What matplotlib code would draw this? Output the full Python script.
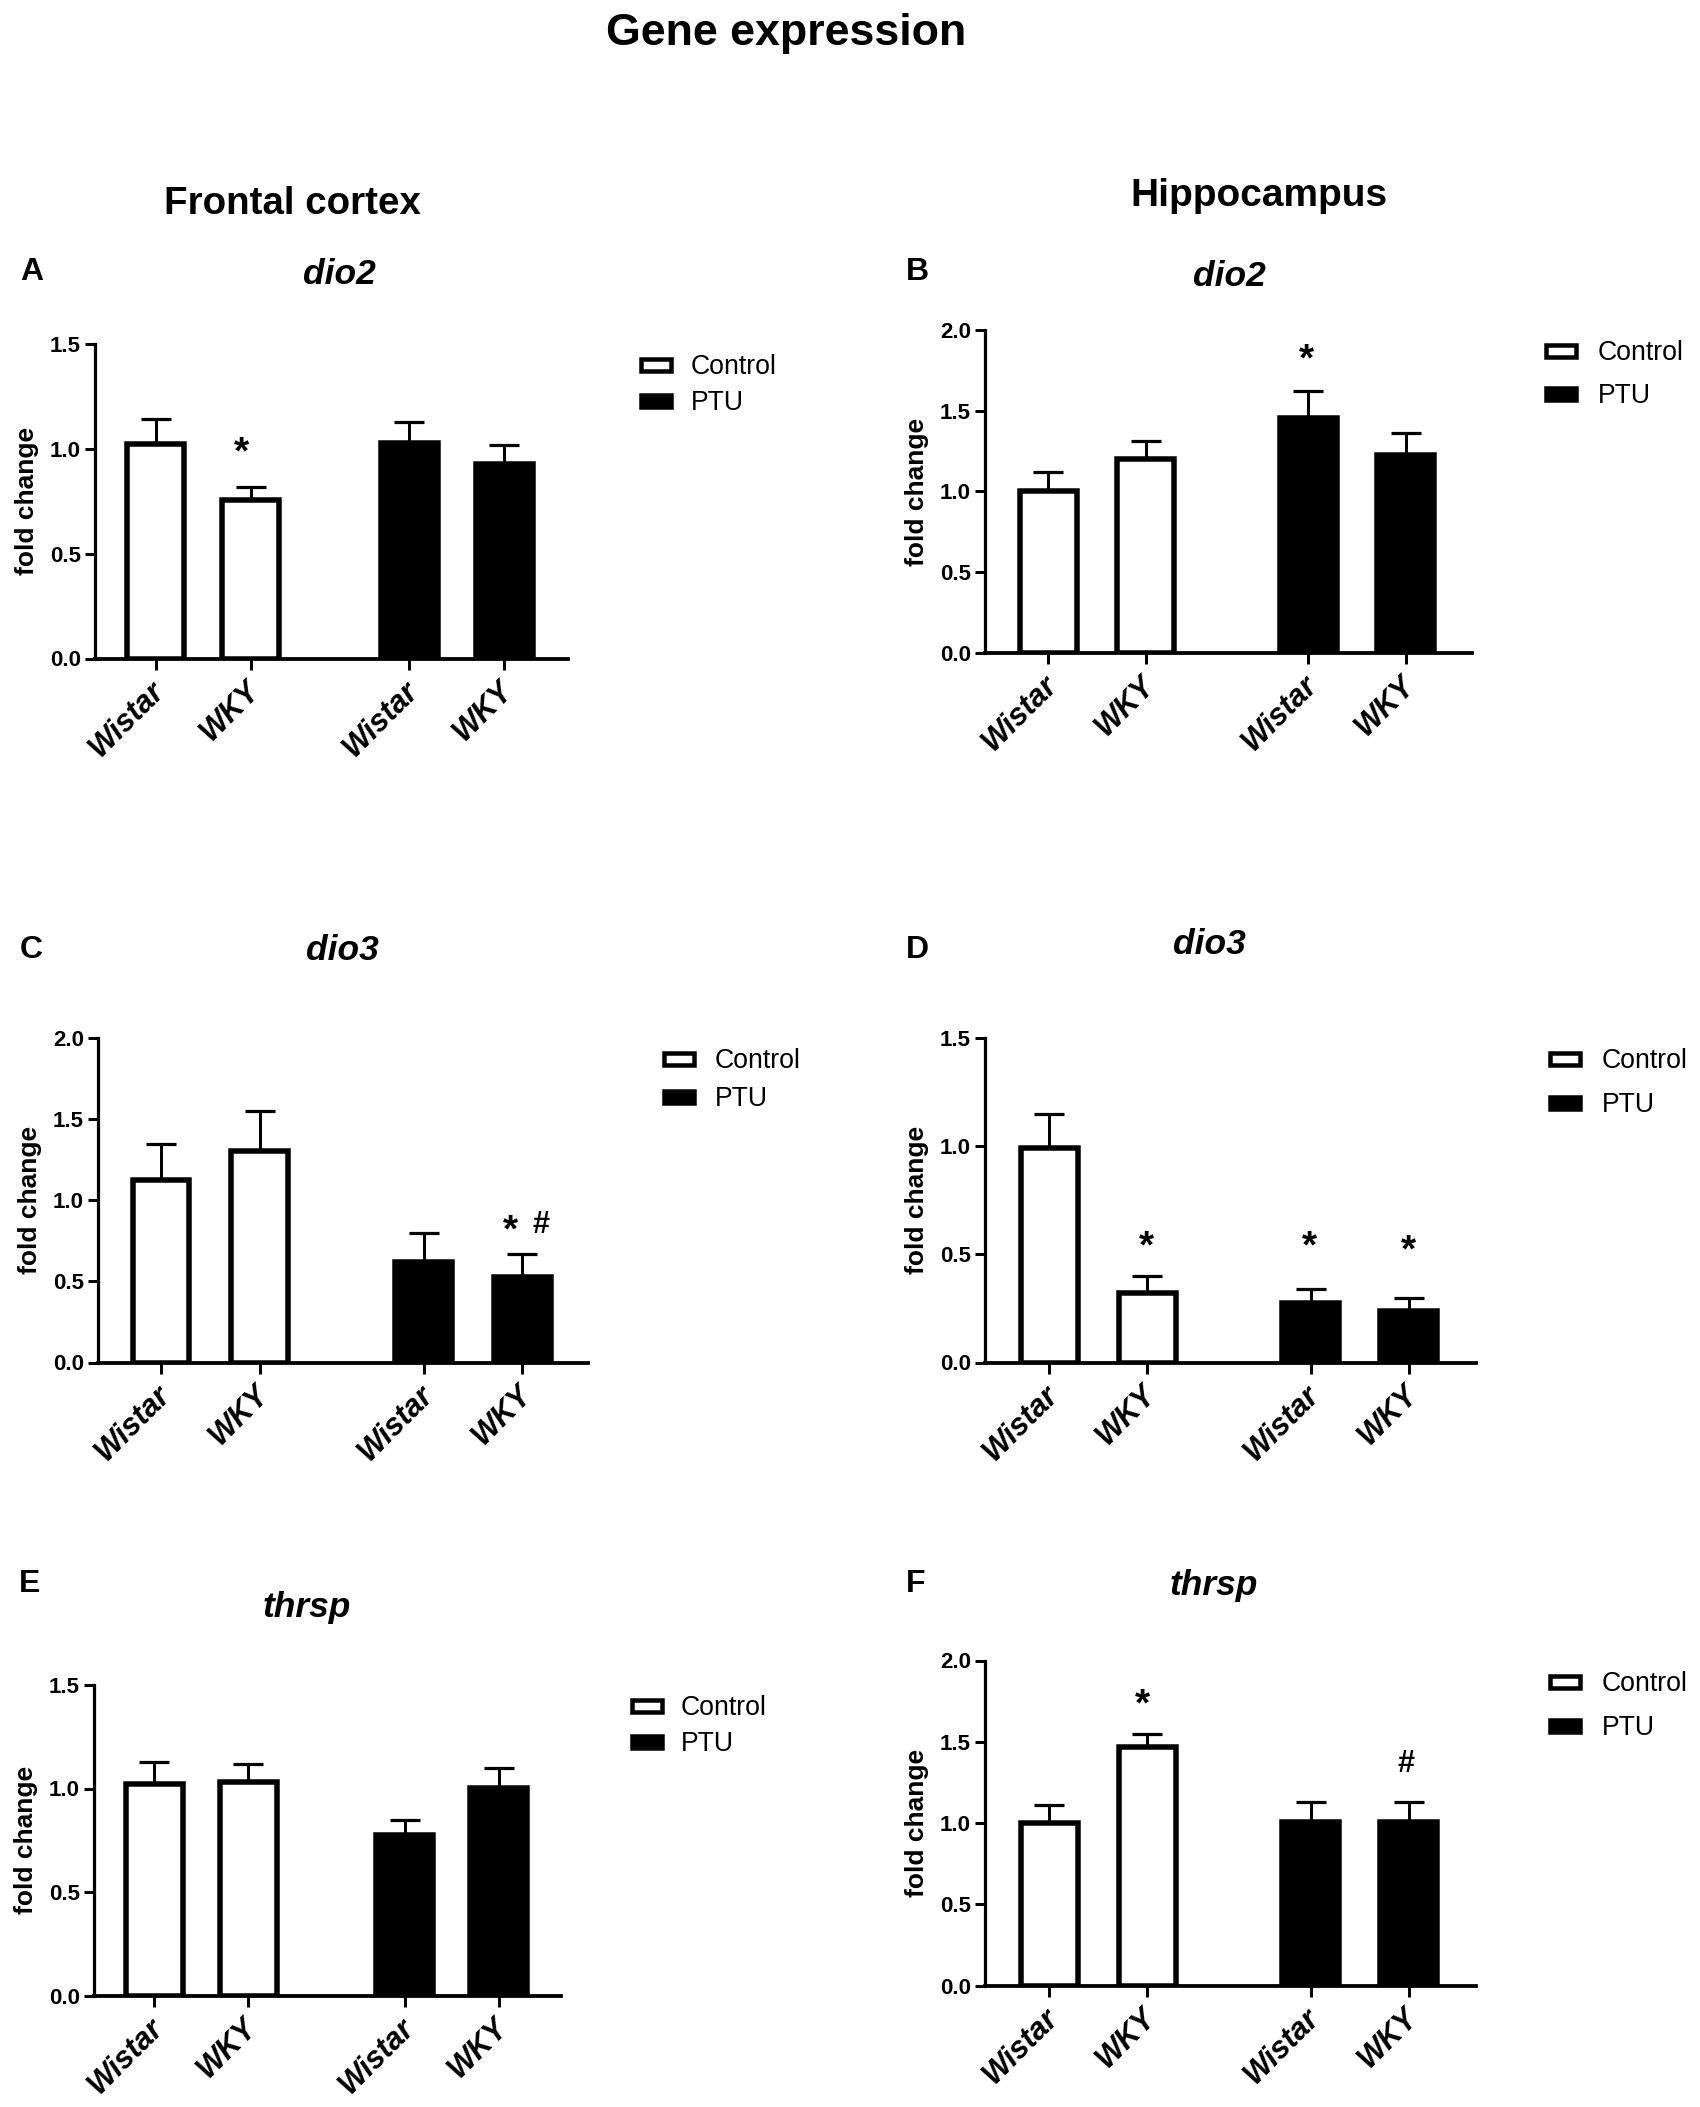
"""Gene expression panels: fold change by strain, control vs PTU."""

import matplotlib
matplotlib.use("Agg")
import matplotlib.pyplot as plt
from matplotlib.patches import Rectangle
from matplotlib.transforms import ScaledTranslation

plt.rcParams.update({"font.family": ["Liberation Sans", "DejaVu Sans"]})

W, H = 1700, 2107
PX = 0.72  # points per pixel at dpi 100

STRAINS = ["Wistar", "WKY", "Wistar", "WKY"]
POS = [0, 1, 2.67, 3.67]
GROUP_COLOURS = ["white", "white", "black", "black"]

# bar heights and top of the error bars
DIO2_FC = [1.022, 0.758, 1.028, 0.928]
DIO2_FC_TOP = [1.14, 0.816, 1.128, 1.017]
DIO2_HC = [1.003, 1.203, 1.456, 1.229]
DIO2_HC_TOP = [1.12, 1.312, 1.62, 1.36]
DIO3_FC = [1.123, 1.305, 0.619, 0.527]
DIO3_FC_TOP = [1.344, 1.546, 0.80, 0.667]
DIO3_HC = [0.99, 0.321, 0.273, 0.24]
DIO3_HC_TOP = [1.146, 0.398, 0.34, 0.30]
THRSP_FC = [1.022, 1.032, 0.774, 1.003]
THRSP_FC_TOP = [1.129, 1.118, 0.85, 1.098]
THRSP_HC = [1.003, 1.466, 1.005, 1.005]
THRSP_HC_TOP = [1.111, 1.55, 1.13, 1.13]

YTICKS_15 = [0.0, 0.5, 1.0, 1.5]
YTICKS_20 = [0.0, 0.5, 1.0, 1.5, 2.0]

fig = plt.figure(figsize=(W / 100, H / 100), dpi=100, facecolor="white")


def ftext(x, y, s, **kw):
    fig.text(x / W, 1 - y / H, s, **kw)


def legend(left, y_ctrl, y_ptu, tx):
    for yc, fc, name in [(y_ctrl, "white", "Control"), (y_ptu, "black", "PTU")]:
        fig.add_artist(Rectangle(((left + 2) / W, 1 - (yc + 6) / H), 30 / W, 12 / H,
                                 transform=fig.transFigure, facecolor=fc,
                                 edgecolor="black", linewidth=4.5 * PX))
        ftext(tx, yc + 9, name, fontsize=19.2, va="baseline", ha="left")


def panel(box, first, step, vals, tops, yticks, title, letter, marks, leg):
    x0, y_top, x1, y_bot = box
    ax = fig.add_axes([x0 / W, 1 - y_bot / H, (x1 - x0) / W, (y_bot - y_top) / H])
    ax.set_xlim((x0 - first) / step, (x1 - first) / step)
    ax.set_ylim(0, yticks[-1])
    width = 57 / step
    ax.bar(POS, vals, width=width, color=GROUP_COLOURS, edgecolor="black",
           linewidth=5.5 * PX, zorder=3)
    errs = [t - v for t, v in zip(tops, vals)]
    ax.errorbar(POS, vals, yerr=[[0] * 4, errs], fmt="none", ecolor="black",
                elinewidth=3 * PX, capsize=15 * PX, capthick=3.2 * PX, zorder=2)
    for side in ["top", "right"]:
        ax.spines[side].set_visible(False)
    ax.spines["left"].set_linewidth(3.2 * PX)
    ax.spines["bottom"].set_linewidth(3.8 * PX)
    ax.set_yticks(yticks)
    ax.set_yticklabels([f"{t:.1f}" for t in yticks], fontsize=16, fontweight="bold")
    ax.set_xticks(POS)
    ax.set_xticklabels(STRAINS, fontsize=22, fontweight="bold", fontstyle="italic",
                       rotation=45, ha="right", rotation_mode="anchor")
    ax.tick_params(axis="y", length=10 * PX, width=3 * PX, pad=4 * PX)
    ax.tick_params(axis="x", length=11 * PX, width=3 * PX, pad=6 * PX)
    # tick_params resets the label transform, so the nudge has to come after it
    shift = ScaledTranslation(-6 / 100, 0, fig.dpi_scale_trans)
    for lab in ax.get_xticklabels():
        lab.set_transform(lab.get_transform() + shift)
    ax.set_ylabel("fold change", fontsize=19, fontweight="bold")
    ax.yaxis.set_label_coords(-56 / (x1 - x0), 0.5)
    for mx, my, s in marks:
        fs = 28 if s == "*" else 22
        k = 0.42 if s == "*" else 0.28
        ax.annotate(s, (mx, my), xytext=(0, -k * fs), textcoords="offset points",
                    ha="center", va="baseline", fontsize=fs, fontweight="bold")
    ftext(title[0] - 1, title[1] + 2, title[2], fontsize=25.5, fontweight="bold",
          fontstyle="italic", ha="center", va="center")
    ftext(letter[0], letter[1] + 1, letter[2], fontsize=23, fontweight="bold",
          ha="left", va="center")
    legend(*leg)


ftext(786, 45, "Gene expression", fontsize=32.2, fontweight="bold", ha="center",
      va="baseline")
ftext(292, 214, "Frontal cortex", fontsize=27.7, fontweight="bold", ha="center",
      va="baseline")
ftext(1259, 206, "Hippocampus", fontsize=28, fontweight="bold", ha="center",
      va="baseline")

panel((95, 344, 568, 658.5), 155.5, 95, DIO2_FC, DIO2_FC_TOP, YTICKS_15,
      (340, 273, "dio2"), (20, 271, "A"), [(0.9, 1.01, "*")],
      (639, 365, 401, 691))
panel((985, 330, 1472, 653), 1048, 97.5, DIO2_HC, DIO2_HC_TOP, YTICKS_20,
      (1230, 275, "dio2"), (906, 271, "B"), [(2.648, 1.852, "*")],
      (1544, 351, 394, 1598))
panel((98, 1037.7, 588, 1362.5), 161, 98.5, DIO3_FC, DIO3_FC_TOP, YTICKS_20,
      (343, 949, "dio3"), (20, 949, "C"),
      [(3.547, 0.844, "*"), (3.856, 0.851, "#")],
      (662, 1059, 1097, 715))
panel((985, 1037.7, 1476, 1362.5), 1049, 98, DIO3_HC, DIO3_HC_TOP, YTICKS_15,
      (1210, 943, "dio3"), (906, 949, "D"),
      [(0.99, 0.559, "*"), (2.657, 0.559, "*"), (3.666, 0.543, "*")],
      (1548, 1059, 1103, 1602))
panel((94, 1685, 561, 1995.5), 154, 94, THRSP_FC, THRSP_FC_TOP, YTICKS_15,
      (308, 1605, "thrsp"), (19, 1582.5, "E"), [],
      (630, 1706, 1742, 681))
panel((985, 1660.5, 1476, 1985.5), 1049, 98, THRSP_HC, THRSP_HC_TOP, YTICKS_20,
      (1215, 1584, "thrsp"), (906, 1582.5, "F"),
      [(0.956, 1.763, "*"), (3.644, 1.368, "#")],
      (1548, 1682, 1726, 1602))

fig.savefig("out.png", dpi=100, facecolor="white")
